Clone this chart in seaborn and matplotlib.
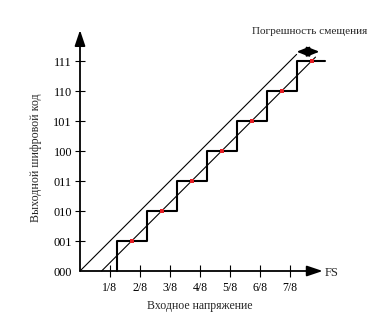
import numpy as np
import pandas as pd
import matplotlib
matplotlib.use("Agg")
import matplotlib.pyplot as plt
import seaborn as sns

# codes on the y axis, fractions of FS on the x axis
codes = ['000', '001', '010', '011', '100', '101', '110', '111']
fs_ticks = [1, 2, 3, 4, 5, 6, 7]
fs_labels = ['1/8', '2/8', '3/8', '4/8', '5/8', '6/8', '7/8']

# staircase transfer curve (with offset error)
step_x = [1.22, 2.22, 3.22, 4.22, 5.22, 6.22, 7.22, 8.15]
step_y = [0, 1, 2, 3, 4, 5, 6, 7]

# mid-points of each code (red dots)
dot_x = [1.72, 2.73, 3.73, 4.72, 5.73, 6.73, 7.74]
dot_y = [1, 2, 3, 4, 5, 6, 7]

# ideal line and shifted line
ideal_x = [0, 7.22]
ideal_y = [0, 7.22]
shift_x = [0.72, 7.85]
shift_y = [0, 7.13]

# offset error arrow
err_x = [7.22, 7.98]
err_y = 7.31

sns.set_style('white')
plt.rcParams['font.family'] = ['Liberation Serif', 'DejaVu Serif']

fig = plt.figure(figsize=(3.73, 3.23), dpi=100)
ax = fig.add_axes([80 / 373, 52 / 323, 240 / 373, 240 / 323])
ax.set_xlim(0, 8)
ax.set_ylim(0, 8)
for s in ax.spines.values():
    s.set_visible(False)

steps = pd.DataFrame({'x': step_x, 'y': step_y})
sns.lineplot(data=steps, x='x', y='y', ax=ax, color='black', lw=1.5,
             drawstyle='steps-pre', estimator=None, sort=False, clip_on=False)

sns.lineplot(x=ideal_x, y=ideal_y, ax=ax, color='black', lw=0.8,
             estimator=None, sort=False, clip_on=False)
sns.lineplot(x=shift_x, y=shift_y, ax=ax, color='black', lw=0.8,
             estimator=None, sort=False, clip_on=False)

sns.scatterplot(x=dot_x, y=dot_y, ax=ax, color='#e31e24', s=8,
                linewidth=0, marker='s', zorder=5, clip_on=False)

# axes with arrow heads
arrow = dict(arrowstyle='-|>,head_length=0.95,head_width=0.32', lw=1.3,
             color='black', mutation_scale=10, shrinkA=0, shrinkB=0)
ax.annotate('', xy=(0, 8.03), xytext=(0, 0), arrowprops=arrow, annotation_clip=False)
ax.annotate('', xy=(8.09, 0), xytext=(0, 0), arrowprops=arrow, annotation_clip=False)

# offset error double arrow
ax.annotate('', xy=(err_x[1], err_y), xytext=(err_x[0], err_y), annotation_clip=False,
            arrowprops=dict(arrowstyle='<|-|>,head_length=0.75,head_width=0.3', lw=1.3,
                            color='black', mutation_scale=10, shrinkA=0, shrinkB=0))
ax.text(7.64, 8.0, 'Погрешность смещения', ha='center', va='center', fontsize=8.1)
ax.text(8.17, -0.05, 'FS', ha='left', va='center', fontsize=9)

ax.set_xticks(fs_ticks)
ax.set_xticklabels(fs_labels)
ax.set_yticks(range(len(codes)))
ax.set_yticklabels(codes)
ax.tick_params(axis='x', direction='inout', length=8.6, width=0.8, pad=3.5,
               labelsize=8.5, colors='black', bottom=True)
ax.tick_params(axis='y', direction='inout', length=7.9, width=0.8, pad=1.8,
               labelsize=8.8, colors='black', left=True)
ax.yaxis.get_major_ticks()[0].tick1line.set_visible(False)

ax.set_xlabel('Входное напряжение', fontsize=8.5)
ax.xaxis.label.set_va('center')
ax.xaxis.set_label_coords(0.5, -0.146)
ax.set_ylabel('Выходной шифровой код', fontsize=8.6)
ax.yaxis.label.set_va('center')
ax.yaxis.set_label_coords(-0.183, 0.471)

fig.savefig('out.png', dpi=100)
